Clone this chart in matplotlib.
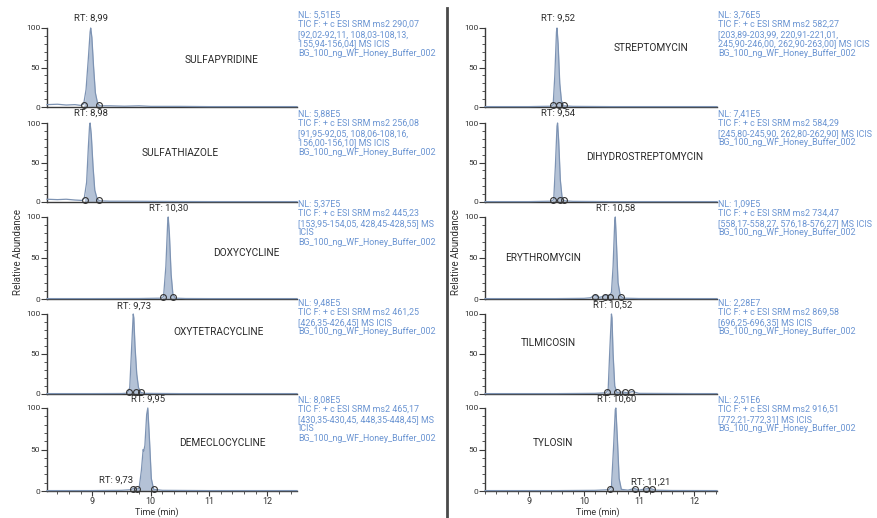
import matplotlib
matplotlib.use("Agg")
import matplotlib.pyplot as plt
import numpy as np
from matplotlib.ticker import MultipleLocator

# ---------------- data ----------------
# left column
sulfapyridine_t = [8.22, 8.40, 8.55, 8.70, 8.80, 8.85, 8.89, 8.93, 8.96, 8.97, 8.99, 9.02, 9.05, 9.09, 9.13, 9.30, 9.55, 9.80, 10.0, 10.5, 11.0, 12.0, 12.51]
sulfapyridine_i = [3.0, 3.5, 2.5, 3.0, 2.0, 4.0, 22, 62, 95, 100, 88, 50, 18, 4, 1.5, 1.5, 1.0, 1.5, 0.8, 0.8, 0.5, 0.5, 0.5]
sulfapyridine_marks = [8.86, 9.12]

sulfathiazole_t = [8.22, 8.40, 8.55, 8.70, 8.82, 8.86, 8.90, 8.93, 8.95, 8.96, 8.98, 9.01, 9.04, 9.08, 9.12, 9.30, 9.60, 10.0, 10.5, 11.0, 12.0, 12.51]
sulfathiazole_i = [3.5, 3.0, 3.5, 2.5, 2.0, 5, 25, 70, 96, 100, 85, 45, 15, 4, 1.5, 1.0, 1.0, 0.8, 0.6, 0.5, 0.5, 0.5]
sulfathiazole_marks = [8.88, 9.11]

doxycycline_t = [8.22, 9.0, 9.8, 10.18, 10.22, 10.26, 10.29, 10.30, 10.32, 10.35, 10.38, 10.42, 10.6, 11.0, 12.0, 12.51]
doxycycline_i = [0.5, 0.5, 0.6, 1.0, 3, 40, 92, 100, 80, 30, 6, 1.0, 0.6, 0.5, 0.5, 0.5]
doxycycline_marks = [10.21, 10.39]

oxytetracycline_t = [8.22, 9.0, 9.5, 9.60, 9.64, 9.68, 9.70, 9.71, 9.73, 9.76, 9.79, 9.83, 9.90, 10.5, 11.0, 12.0, 12.51]
oxytetracycline_i = [0.5, 0.5, 0.6, 1.0, 8, 70, 100, 95, 60, 25, 8, 2, 0.8, 0.5, 0.5, 0.5, 0.5]
oxytetracycline_marks = [9.62, 9.75, 9.84]

demeclocycline_t = [8.22, 9.0, 9.5, 9.66, 9.70, 9.73, 9.76, 9.80, 9.84, 9.87, 9.88, 9.90, 9.93, 9.95, 9.98, 10.01, 10.05, 10.2, 11.0, 12.0, 12.51]
demeclocycline_i = [0.5, 0.5, 0.8, 1.5, 3.0, 4.0, 2.5, 3.0, 25, 50, 48, 55, 92, 100, 60, 15, 2.0, 0.8, 0.5, 0.5, 0.5]
demeclocycline_marks = [9.69, 9.77, 10.06]

# right column
streptomycin_t = [8.20, 9.0, 9.40, 9.44, 9.47, 9.50, 9.51, 9.53, 9.56, 9.59, 9.63, 9.8, 10.5, 11.5, 12.42]
streptomycin_i = [0.5, 0.5, 1.0, 3, 40, 95, 100, 80, 30, 8, 1.5, 0.8, 0.5, 0.5, 0.5]
streptomycin_marks = [9.43, 9.55, 9.63]

dihydrostreptomycin_t = [8.20, 9.0, 9.40, 9.45, 9.48, 9.51, 9.52, 9.54, 9.57, 9.60, 9.64, 9.8, 10.5, 11.5, 12.42]
dihydrostreptomycin_i = [0.5, 0.5, 1.0, 3, 45, 96, 100, 78, 28, 7, 1.5, 0.8, 0.5, 0.5, 0.5]
dihydrostreptomycin_marks = [9.44, 9.56, 9.63]

erythromycin_t = [8.20, 9.5, 10.0, 10.12, 10.20, 10.28, 10.34, 10.40, 10.46, 10.50, 10.53, 10.56, 10.57, 10.59, 10.62, 10.66, 10.72, 11.0, 12.0, 12.42]
erythromycin_i = [0.5, 0.5, 0.8, 1.5, 5.0, 2.0, 3.0, 5.0, 4.0, 8, 40, 95, 100, 70, 20, 4, 1.0, 0.6, 0.5, 0.5]
erythromycin_marks = [10.20, 10.38, 10.48, 10.67]

tilmicosin_t = [8.20, 9.5, 10.2, 10.40, 10.44, 10.47, 10.50, 10.51, 10.53, 10.56, 10.60, 10.70, 10.80, 10.88, 11.0, 12.0, 12.42]
tilmicosin_i = [0.5, 0.5, 0.8, 1.5, 5, 55, 100, 95, 50, 10, 2.0, 2.5, 1.5, 3.0, 0.8, 0.5, 0.5]
tilmicosin_marks = [10.42, 10.60, 10.75, 10.86]

tylosin_t = [8.20, 9.5, 10.2, 10.45, 10.50, 10.54, 10.57, 10.58, 10.61, 10.64, 10.68, 10.80, 10.92, 11.00, 11.12, 11.21, 11.30, 11.6, 12.42]
tylosin_i = [0.5, 0.5, 0.8, 1.5, 5, 55, 98, 100, 60, 15, 2.0, 1.0, 3.0, 1.0, 2.5, 3.0, 1.0, 0.6, 0.5]
tylosin_marks = [10.48, 10.93, 11.12, 11.24]

left_names = ["SULFAPYRIDINE", "SULFATHIAZOLE", "DOXYCYCLINE", "OXYTETRACYCLINE", "DEMECLOCYCLINE"]
right_names = ["STREPTOMYCIN", "DIHYDROSTREPTOMYCIN", "ERYTHROMYCIN", "TILMICOSIN", "TYLOSIN"]

left_rt = [["RT: 8,99"], ["RT: 8,98"], ["RT: 10,30"], ["RT: 9,73"], ["RT: 9,95", "RT: 9,73"]]
right_rt = [["RT: 9,52"], ["RT: 9,54"], ["RT: 10,58"], ["RT: 10,52"], ["RT: 10,60", "RT: 11,21"]]

left_info = [
    ["NL: 5,51E5", "TIC F: + c ESI SRM ms2 290,07", "[92,02-92,11, 108,03-108,13,", "155,94-156,04] MS ICIS", "BG_100_ng_WF_Honey_Buffer_002"],
    ["NL: 5,88E5", "TIC F: + c ESI SRM ms2 256,08", "[91,95-92,05, 108,06-108,16,", "156,00-156,10] MS ICIS", "BG_100_ng_WF_Honey_Buffer_002"],
    ["NL: 5,37E5", "TIC F: + c ESI SRM ms2 445,23", "[153,95-154,05, 428,45-428,55] MS", "ICIS", "BG_100_ng_WF_Honey_Buffer_002"],
    ["NL: 9,48E5", "TIC F: + c ESI SRM ms2 461,25", "[426,35-426,45] MS ICIS", "BG_100_ng_WF_Honey_Buffer_002"],
    ["NL: 8,08E5", "TIC F: + c ESI SRM ms2 465,17", "[430,35-430,45, 448,35-448,45] MS", "ICIS", "BG_100_ng_WF_Honey_Buffer_002"],
]
right_info = [
    ["NL: 3,76E5", "TIC F: + c ESI SRM ms2 582,27", "[203,89-203,99, 220,91-221,01,", "245,90-246,00, 262,90-263,00] MS ICIS", "BG_100_ng_WF_Honey_Buffer_002"],
    ["NL: 7,41E5", "TIC F: + c ESI SRM ms2 584,29", "[245,80-245,90, 262,80-262,90] MS ICIS", "BG_100_ng_WF_Honey_Buffer_002"],
    ["NL: 1,09E5", "TIC F: + c ESI SRM ms2 734,47", "[558,17-558,27, 576,18-576,27] MS ICIS", "BG_100_ng_WF_Honey_Buffer_002"],
    ["NL: 2,28E7", "TIC F: + c ESI SRM ms2 869,58", "[696,25-696,35] MS ICIS", "BG_100_ng_WF_Honey_Buffer_002"],
    ["NL: 2,51E6", "TIC F: + c ESI SRM ms2 916,51", "[772,21-772,31] MS ICIS", "BG_100_ng_WF_Honey_Buffer_002"],
]

x_ticks = [9, 10, 11, 12]
y_ticks = [0, 50, 100]

left_traces = [
    (sulfapyridine_t, sulfapyridine_i, sulfapyridine_marks),
    (sulfathiazole_t, sulfathiazole_i, sulfathiazole_marks),
    (doxycycline_t, doxycycline_i, doxycycline_marks),
    (oxytetracycline_t, oxytetracycline_i, oxytetracycline_marks),
    (demeclocycline_t, demeclocycline_i, demeclocycline_marks),
]
right_traces = [
    (streptomycin_t, streptomycin_i, streptomycin_marks),
    (dihydrostreptomycin_t, dihydrostreptomycin_i, dihydrostreptomycin_marks),
    (erythromycin_t, erythromycin_i, erythromycin_marks),
    (tilmicosin_t, tilmicosin_i, tilmicosin_marks),
    (tylosin_t, tylosin_i, tylosin_marks),
]

# ---------------- layout / style ----------------
W, H = 877, 518
plt.rcParams["font.family"] = ["Liberation Sans Narrow", "Roboto", "DejaVu Sans"]
BLUE = "#6a94d2"
LINE = "#7d93b3"
FILL = "#b4c2d6"
AX = "#3a3a3a"
TXT = "#2a2a2a"

fig = plt.figure(figsize=(W / 100, H / 100), dpi=100)
fig.patch.set_facecolor("white")

def fx(x):
    return x / W

def fy(y):
    return 1 - y / H

y0_px = [107, 202, 299, 394, 491]
y100_px = [28, 123, 217, 314, 408]
nl_px = [15, 114, 204, 303, 400]

columns = [
    dict(left=47, right=297, xlim=(8.22, 12.51), names=left_names, rts=left_rt, info=left_info,
         traces=left_traces, info_x=298,
         name_pos=[(222, 60), (180, 153), (246, 253), (219, 332), (222, 443)],
         rt_pos=[[(8.98, 18)], [(8.97, 113)], [(10.30, 208)], [(9.72, 306)], [(9.95, 399), (9.40, 480)]]),
    dict(left=485, right=717, xlim=(8.20, 12.42), names=right_names, rts=right_rt, info=right_info,
         traces=right_traces, info_x=718,
         name_pos=[(651, 48), (645, 157), (543, 258), (548, 343), (553, 443)],
         rt_pos=[[(9.52, 18)], [(9.52, 113)], [(10.58, 208)], [(10.52, 305)], [(10.60, 399), (11.21, 482)]]),
]

for col in columns:
    for k in range(5):
        y0, y1 = y0_px[k], y100_px[k]
        ax = fig.add_axes([fx(col["left"]), fy(y0), fx(col["right"] - col["left"]), (y0 - y1) / H])
        ax.set_xlim(*col["xlim"])
        ax.set_ylim(0, 100)
        ax.patch.set_alpha(0)
        for s in ["top", "right"]:
            ax.spines[s].set_visible(False)
        for s in ["left", "bottom"]:
            ax.spines[s].set_color(AX)
            ax.spines[s].set_linewidth(1.0)
        t, inten, marks = col["traces"][k]
        t = np.array(t)
        inten = np.array(inten)
        lo, hi = min(marks), max(marks)
        ax.fill_between(t, 0, inten, where=(t >= lo) & (t <= hi), interpolate=True,
                        color=FILL, linewidth=0, clip_on=False, zorder=2)
        ax.plot(t, inten, color=LINE, lw=0.9, clip_on=False, zorder=3)
        ax.plot(marks, [2.5] * len(marks), linestyle="none", marker="o", ms=4.2, mfc="none",
                mec="#333333", mew=0.8, clip_on=False, zorder=4)
        ax.set_yticks(y_ticks)
        ax.yaxis.set_minor_locator(MultipleLocator(10))
        ax.tick_params(axis="y", which="major", length=4, width=0.8, color=AX,
                       labelsize=6, labelcolor="#333333", pad=1)
        ax.tick_params(axis="y", which="minor", length=2, width=0.6, color=AX)
        if k == 4:
            ax.set_xticks(x_ticks)
            ax.xaxis.set_minor_locator(MultipleLocator(0.2))
            ax.tick_params(axis="x", which="major", length=3.5, width=0.8, color=AX,
                           labelsize=6.5, labelcolor="#333333", pad=1)
            ax.tick_params(axis="x", which="minor", length=2, width=0.6, color=AX)
        else:
            ax.set_xticks([])
        # RT labels
        for lab, (xv, ypx) in zip(col["rts"][k], col["rt_pos"][k]):
            xdisp = ax.transData.transform((xv, 0))[0]
            fig.text(xdisp / W, fy(ypx), lab, fontsize=6.8, ha="center", va="center", color=TXT)
        # compound name
        nx, ny = col["name_pos"][k]
        fig.text(fx(nx), fy(ny), col["names"][k], fontsize=7.3, ha="center", va="center", color=TXT)
        # info text
        for j, line in enumerate(col["info"][k]):
            fig.text(fx(col["info_x"]), fy(nl_px[k] + j * 9.6), line, fontsize=6.4,
                     ha="left", va="center", color=BLUE)

# y labels
fig.text(fx(18), fy(252), "Relative Abundance", rotation=90, fontsize=7, ha="center", va="center", color="#333333")
fig.text(fx(456), fy(252), "Relative Abundance", rotation=90, fontsize=7, ha="center", va="center", color="#333333")
# x labels
fig.text(fx(157), fy(512.5), "Time (min)", fontsize=6.5, ha="center", va="center", color="#333333")
fig.text(fx(598), fy(512.5), "Time (min)", fontsize=6.5, ha="center", va="center", color="#333333")

# divider line
fig.add_artist(matplotlib.lines.Line2D([fx(447), fx(447)], [fy(8), fy(518)], color="#4a4a4a", lw=2.0))

fig.savefig("out.png", dpi=100)
